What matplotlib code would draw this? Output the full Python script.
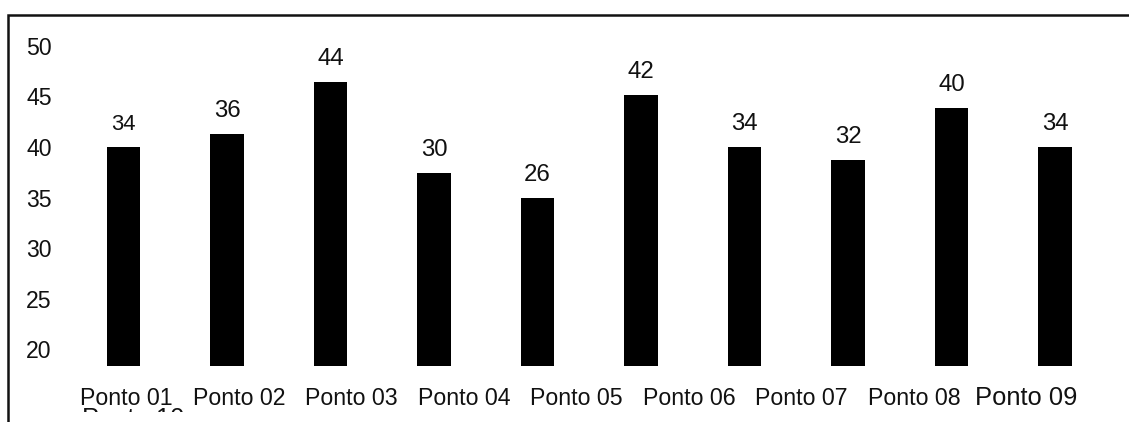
import matplotlib.pyplot as plt
from matplotlib.patches import Rectangle

plt.rcParams['font.family'] = ['Liberation Sans', 'DejaVu Sans']

# valores medidos em cada ponto
valores = [34, 36, 44, 30, 26, 42, 34, 32, 40, 34]
pontos = ['Ponto 01', 'Ponto 02', 'Ponto 03', 'Ponto 04', 'Ponto 05',
          'Ponto 06', 'Ponto 07', 'Ponto 08', 'Ponto 09', 'Ponto 10']
escala = [20, 25, 30, 35, 40, 45, 50]
tam_rotulos = [15.8, 17.3, 17.3, 17.3, 17.3, 17.3, 17.3, 17.3, 17.3, 17.3]

W, H = 1129, 422
fig = plt.figure(figsize=(W / 100, H / 100), dpi=100)


def fx(x):
    return x / W


def fy(y):
    return 1 - y / H


# area do grafico (em pixels): x 60..1110, y 30..366
ax = fig.add_axes([fx(60), fy(366), fx(1110) - fx(60), fy(30) - fy(366)])
ax.set_xlim(-0.6135, 9.531)
ax.set_ylim(18.37, 51.56)
ax.set_yticks(escala)
ax.set_yticklabels([str(v) for v in escala], fontsize=16.6, color='#111111')
ax.tick_params(axis='y', length=0, pad=6)
ax.tick_params(axis='x', length=0, labelbottom=False)
for s in ax.spines.values():
    s.set_visible(False)

# barras numa escala propria, a partir de zero
axb = ax.twinx()
axb.set_ylim(0, 52.1)
axb.set_yticks([])
for s in axb.spines.values():
    s.set_visible(False)
xs = list(range(len(valores)))
barras = axb.bar(xs, valores, width=0.32, color='black')
for x, v, t in zip(xs, valores, tam_rotulos):
    axb.annotate(str(v), (x, v), xytext=(0, 12.2), textcoords='offset points',
                 ha='center', va='baseline', fontsize=t, color='#111111')

# nomes dos pontos em linha corrida
for j, nome in enumerate(pontos[:8]):
    fig.text(fx(126.5 + 112.5 * j), fy(405), nome, ha='center', va='baseline',
             fontsize=16.7, color='#111111')
fig.text(fx(126.5 + 112.5 * 8), fy(405), pontos[8], ha='center', va='baseline',
         fontsize=18.4, color='#111111')
# o ultimo nome quebra para a segunda linha, cortada pela caixa de texto
fig.text(fx(82), fy(426), pontos[9], ha='left', va='baseline',
         fontsize=18.4, color='#111111', zorder=1)
fig.patches.append(Rectangle((fx(10), 0), 1, fy(411.7),
                             transform=fig.transFigure, fc='white', ec='none',
                             zorder=5))

# moldura
fig.patches.append(Rectangle((fx(8), -0.2), 1.3, fy(14.7) + 0.2,
                             transform=fig.transFigure, fill=False,
                             lw=1.8, ec='#111111', zorder=6))

fig.savefig('out.png', dpi=100)
